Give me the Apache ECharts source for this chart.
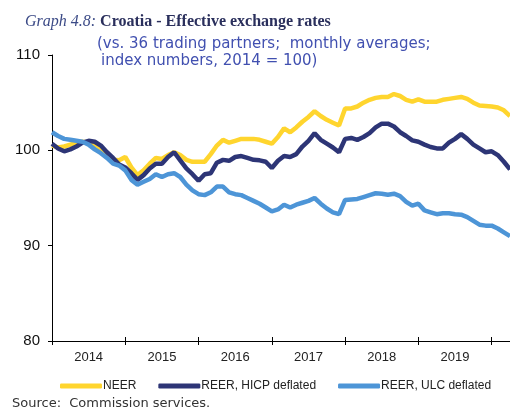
<!DOCTYPE html>
<html>
<head>
<meta charset="utf-8">
<script src="https://cdn.jsdelivr.net/npm/echarts@6/dist/echarts.min.js"></script>
<style>
  html, body { margin: 0; padding: 0; background: #fff; }
  #chart { width: 510px; height: 412px; }
</style>
</head>
<body>
<div id="chart"></div>
<script>
// monthly, Jan 2014 .. Apr 2020
const years = [2014, 2015, 2016, 2017, 2018, 2019, 2020]
const months = []
years.forEach(y => {
  for (let m = 1; m <= 12; m++) {
    if (y === 2020 && m > 4) break
    months.push(y + '-' + (m < 10 ? '0' + m : m))
  }
})

const neer = [
  100.5, 100.3, 100.4, 100.6, 100.8, 100.9, 100.8, 100.5, 99.9, 99.6, 99.0, 98.95,
  99.3, 98.2, 97.4, 97.9, 98.6, 99.2, 99.1, 99.5, 99.8, 99.5, 99.0, 98.8,
  98.8, 98.8, 99.6, 100.5, 101.1, 100.8, 101.0, 101.2, 101.2, 101.2, 101.1, 100.9,
  100.7, 101.4, 102.3, 101.9, 102.4, 103.0, 103.5, 104.1, 103.6, 103.2, 102.9, 102.6,
  104.4, 104.4, 104.6, 105.0, 105.3, 105.5, 105.6, 105.6, 105.9, 105.7, 105.3, 105.1,
  105.35, 105.1, 105.1, 105.1, 105.3, 105.4, 105.5, 105.6, 105.4, 105.0, 104.7, 104.65,
  104.6, 104.5, 104.2, 103.6
]
const reerHicp = [
  100.7, 100.2, 99.9, 100.1, 100.4, 100.8, 101.0, 100.9, 100.5, 99.8, 99.2, 98.5,
  98.2, 97.6, 96.9, 97.4, 98.1, 98.6, 98.6, 99.3, 99.8, 98.95, 98.1, 97.5,
  96.8, 97.5, 97.6, 98.7, 99.0, 98.9, 99.3, 99.4, 99.2, 99.0, 98.95, 98.8,
  98.15, 98.9, 99.4, 99.3, 99.6, 100.4, 101.0, 101.8, 101.1, 100.7, 100.3, 99.8,
  101.2, 101.3, 101.1, 101.4, 101.8, 102.4, 102.8, 102.8, 102.5, 101.9, 101.5, 101.05,
  100.9, 100.6, 100.35, 100.2, 100.2, 100.8, 101.2, 101.7, 101.2, 100.6, 100.2, 99.8,
  99.9, 99.5, 98.8, 98.0
]
const reerUlc = [
  101.9, 101.5, 101.2, 101.1, 101.0, 100.9, 100.6, 100.1, 99.7, 99.2, 98.6, 98.4,
  97.9, 96.9, 96.4, 96.7, 97.0, 97.5, 97.2, 97.5, 97.6, 97.2, 96.4, 95.8,
  95.4, 95.3, 95.6, 96.2, 96.2, 95.6, 95.4, 95.3, 95.0, 94.7, 94.4, 94.0,
  93.6, 93.8, 94.3, 94.0, 94.3, 94.5, 94.7, 95.0, 94.4, 93.9, 93.5, 93.3,
  94.8, 94.85, 94.9, 95.1, 95.3, 95.5, 95.45, 95.35, 95.45, 95.2, 94.6, 94.2,
  94.4, 93.7, 93.5, 93.3, 93.4, 93.4, 93.3, 93.25, 93.0, 92.6, 92.2, 92.1,
  92.1, 91.8, 91.4, 91.0
]
const yTicks = [80, 90, 100, 110]

const chart = echarts.init(document.getElementById('chart'))

const xBase = {
  type: 'category',
  data: months,
  boundaryGap: false,
  axisLine: { lineStyle: { color: '#000', width: 1 } },
  splitLine: { show: false }
}

chart.setOption({
  animation: false,
  textStyle: { fontFamily: 'Liberation Sans, Arial, sans-serif' },
  grid: { left: 52, right: 0, top: 55, bottom: 71 },
  graphic: [
    {
      type: 'text', left: 25, top: 14,
      style: {
        text: '{a|Graph 4.8:}{b| Croatia - Effective exchange rates}',
        rich: {
          a: { fontFamily: 'Liberation Serif, serif', fontStyle: 'italic', fontSize: 16, fill: '#3b4a86' },
          b: { fontFamily: 'Liberation Serif, serif', fontWeight: 'bold', fontSize: 16, fill: '#2a2f5c' }
        }
      }
    },
    {
      type: 'text', left: 97, top: 37,
      style: {
        text: '(vs. 36 trading partners;  monthly averages;',
        fontFamily: 'DejaVu Sans, sans-serif', fontSize: 15, fill: '#4150b0'
      }
    },
    {
      type: 'text', left: 101, top: 54,
      style: {
        text: 'index numbers, 2014 = 100)',
        fontFamily: 'DejaVu Sans, sans-serif', fontSize: 15, fill: '#4150b0'
      }
    },
    {
      type: 'text', left: 12, top: 397,
      style: {
        text: 'Source:  Commission services.',
        fontFamily: 'DejaVu Sans, sans-serif', fontSize: 13, fill: '#333'
      }
    }
  ],
  legend: {
    left: 55, top: 375, width: 470,
    itemWidth: 42, itemHeight: 5, itemGap: 22,
    icon: 'roundRect',
    textStyle: { fontSize: 12, color: '#222', padding: [0, 0, 0, -4] },
    data: ['NEER', 'REER, HICP deflated', 'REER, ULC deflated']
  },
  xAxis: [
    Object.assign({}, xBase, {
      axisTick: { show: true, length: 4, lineStyle: { color: '#000' }, interval: i => i % 12 === 0 },
      axisLabel: {
        interval: i => i % 12 === 6,
        formatter: v => v.slice(0, 4),
        fontSize: 13, color: '#222', margin: 10
      }
    }),
    Object.assign({}, xBase, {
      position: 'bottom', offset: 0,
      axisTick: { show: true, inside: true, length: 4, lineStyle: { color: '#000' }, interval: i => i % 12 === 0 },
      axisLabel: { show: false }
    })
  ],
  yAxis: {
    type: 'value',
    min: yTicks[0], max: yTicks[yTicks.length - 1], interval: 10,
    axisLine: { show: true, lineStyle: { color: '#000', width: 1 } },
    axisTick: { show: true, length: 4, lineStyle: { color: '#000' } },
    axisLabel: { fontSize: 15, color: '#111', margin: 12 },
    splitLine: { show: false }
  },
  series: [
    { name: 'NEER', type: 'line', data: neer, symbol: 'none', itemStyle: { color: '#ffd52e' }, lineStyle: { width: 4.5, color: '#ffd52e' } },
    { name: 'REER, HICP deflated', type: 'line', data: reerHicp, symbol: 'none', itemStyle: { color: '#2d3576' }, lineStyle: { width: 4.5, color: '#2d3576' } },
    { name: 'REER, ULC deflated', type: 'line', data: reerUlc, symbol: 'none', itemStyle: { color: '#4d95d7' }, lineStyle: { width: 4.5, color: '#4d95d7' } }
  ]
})
</script>
</body>
</html>
